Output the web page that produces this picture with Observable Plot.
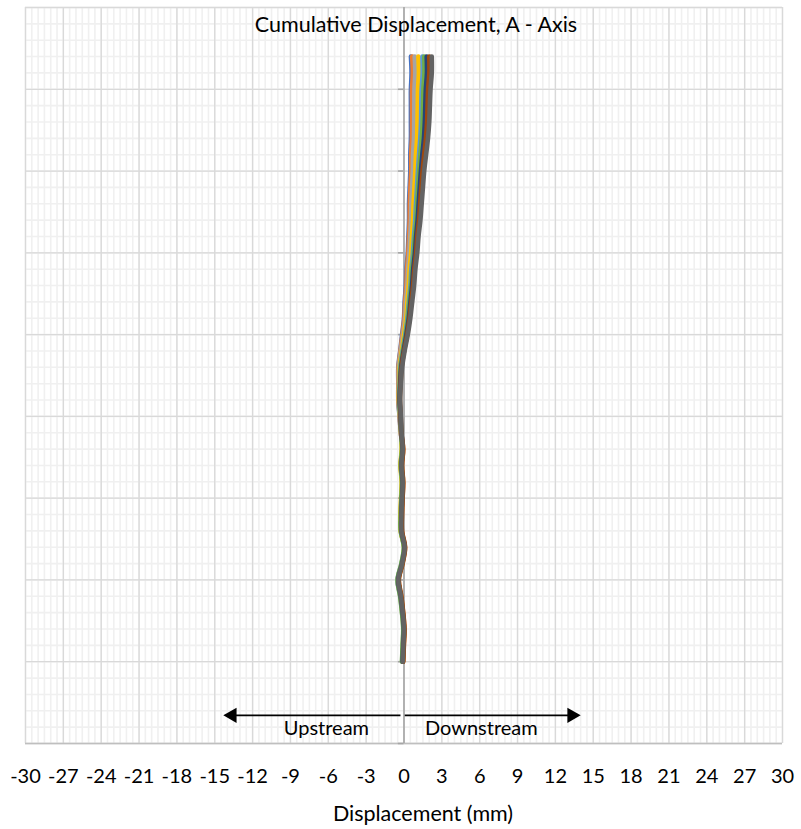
<!DOCTYPE html>
<html>
<head>
<meta charset="utf-8">
<script src="https://cdn.jsdelivr.net/npm/d3@7"></script>
<script src="https://cdn.jsdelivr.net/npm/@observablehq/plot@0.6"></script>
<style>
html, body { margin: 0; padding: 0; background: #fff; }
#chart svg { display: block; }
</style>
</head>
<body>
<div id="chart"></div>
<script>
// ---- Text ----
const title = "Cumulative Displacement, A - Axis";
const xLabel = "Displacement (mm)";
const xTicks = [-30, -27, -24, -21, -18, -15, -12, -9, -6, -3, 0, 3, 6, 9, 12, 15, 18, 21, 24, 27, 30];
const majorDepths = [0, 5, 10, 15, 20, 25, 30, 35, 40, 45];

// ---- Series (depth in m, cumulative displacement in mm) ----
const depth = [3, 4, 5, 6, 7, 8, 9, 10, 11, 12, 13, 14, 15, 16, 17, 18, 19, 20, 21, 22, 23, 24, 25, 26, 27, 28, 29, 30, 31, 32, 33, 34, 35, 36, 37, 38, 39, 40];

const series1 = [0.55, 0.6, 0.55, 0.55, 0.55, 0.55, 0.5, 0.5, 0.45, 0.4, 0.4, 0.35, 0.3, 0.2, 0.15, 0.05, 0, -0.15, -0.3, -0.45, -0.45, -0.45, -0.35, -0.25, -0.12, -0.22, -0.12, -0.17, -0.22, -0.22, 0.02, -0.17, -0.5, -0.27, -0.12, -0.02, -0.07, -0.1];
const series2 = [0.65, 0.7, 0.64, 0.64, 0.64, 0.63, 0.57, 0.57, 0.51, 0.46, 0.45, 0.4, 0.34, 0.24, 0.19, 0.09, 0.03, -0.12, -0.28, -0.43, -0.44, -0.44, -0.34, -0.25, -0.07, -0.17, -0.07, -0.12, -0.17, -0.17, 0.08, -0.12, -0.42, -0.22, -0.07, 0.03, -0.02, -0.07];
const series3 = [0.85, 0.89, 0.83, 0.82, 0.81, 0.79, 0.72, 0.7, 0.64, 0.58, 0.56, 0.49, 0.43, 0.33, 0.27, 0.16, 0.09, -0.07, -0.24, -0.4, -0.41, -0.42, -0.33, -0.24, -0.15, -0.25, -0.15, -0.2, -0.25, -0.25, 0.0, -0.2, -0.5, -0.3, -0.15, -0.05, -0.1, -0.15];
const series4 = [1.14, 1.18, 1.11, 1.09, 1.07, 1.04, 0.95, 0.9, 0.83, 0.76, 0.72, 0.64, 0.57, 0.45, 0.38, 0.27, 0.18, 0.01, -0.17, -0.34, -0.38, -0.4, -0.31, -0.23, -0.18, -0.28, -0.18, -0.23, -0.28, -0.26, 0.02, -0.15, -0.45, -0.25, -0.1, 0.0, -0.05, -0.1];
const series5 = [1.46, 1.48, 1.4, 1.37, 1.35, 1.29, 1.19, 1.1, 1.03, 0.95, 0.89, 0.79, 0.71, 0.58, 0.51, 0.38, 0.27, 0.1, -0.11, -0.29, -0.34, -0.37, -0.3, -0.22, -0.12, -0.22, -0.12, -0.17, -0.22, -0.22, 0.03, -0.17, -0.47, -0.27, -0.12, -0.02, -0.07, -0.12];
const series6 = [1.61, 1.62, 1.54, 1.51, 1.48, 1.41, 1.3, 1.2, 1.12, 1.04, 0.98, 0.86, 0.78, 0.65, 0.57, 0.43, 0.32, 0.14, -0.08, -0.26, -0.32, -0.35, -0.29, -0.22, -0.16, -0.26, -0.16, -0.21, -0.26, -0.26, -0.01, -0.21, -0.51, -0.31, -0.16, -0.06, -0.11, -0.16];
const series7 = [1.8, 1.82, 1.73, 1.69, 1.65, 1.58, 1.45, 1.34, 1.25, 1.16, 1.08, 0.96, 0.87, 0.73, 0.64, 0.51, 0.38, 0.19, -0.03, -0.22, -0.3, -0.34, -0.27, -0.21, -0.1, -0.2, -0.1, -0.15, -0.2, -0.2, 0.05, -0.15, -0.45, -0.25, -0.1, 0.0, -0.05, -0.1];
const series8 = [2.0, 2.01, 1.91, 1.87, 1.83, 1.74, 1.6, 1.47, 1.37, 1.28, 1.19, 1.05, 0.96, 0.82, 0.72, 0.58, 0.44, 0.25, 0.01, -0.19, -0.27, -0.32, -0.26, -0.21, -0.06, -0.16, -0.06, -0.11, -0.16, -0.16, 0.09, -0.11, -0.41, -0.21, -0.06, 0.04, -0.01, -0.06];
const series9 = [2.2, 2.2, 2.1, 2.05, 2.0, 1.9, 1.75, 1.6, 1.5, 1.4, 1.3, 1.15, 1.05, 0.9, 0.8, 0.65, 0.5, 0.3, 0.05, -0.15, -0.25, -0.3, -0.25, -0.2, -0.1, -0.2, -0.1, -0.15, -0.2, -0.2, 0.05, -0.15, -0.45, -0.25, -0.1, 0.0, -0.05, -0.1];

const seriesNames = ["Reading 1", "Reading 2", "Reading 3", "Reading 4", "Reading 5", "Reading 6", "Reading 7", "Reading 8", "Reading 9"];
const seriesValues = [series1, series2, series3, series4, series5, series6, series7, series8, series9];
const seriesColors = ["#4472C4", "#ED7D31", "#A5A5A5", "#FFC000", "#5B9BD5", "#70AD47", "#264478", "#9E480E", "#636363"];

// ---- Direction annotation ----
const directionLabels = ["Upstream", "Downstream"];
const directionLabelX = [-6.15, 6.13];
const directionLabelDepth = 44.1;
const arrowFrom = [-0.28, 0.0];
const arrowTo = [-13.9, 13.7];
const arrowHead = [-13.62, 13.3];
const arrowAngle = [-90, 90];
const arrowDepth = 43.28;

// ---- Build tables ----
const rows = [];
seriesNames.forEach((name, i) => {
  depth.forEach((d, j) => rows.push({series: name, depth: d, disp: seriesValues[i][j]}));
});
const arrows = arrowFrom.map((f, i) => ({from: f, to: arrowTo[i], head: arrowHead[i], angle: arrowAngle[i], depth: arrowDepth}));
const dirText = directionLabels.map((t, i) => ({label: t, x: directionLabelX[i], depth: directionLabelDepth}));

const minorX = d3.range(-30, 30.001, 0.5);
const minorY = d3.range(0, 45.001, 1);

const chart = Plot.plot({
  width: 801,
  height: 829,
  marginLeft: 25,
  marginRight: 19,
  marginTop: 7,
  marginBottom: 86,
  style: {fontFamily: "Lato, 'Open Sans', sans-serif", fontSize: "20px", color: "#000", background: "#fff"},
  x: {domain: [-30, 30], label: null},
  y: {domain: [0, 45], reverse: true, axis: null},
  color: {domain: seriesNames, range: seriesColors},
  marks: [
    Plot.ruleX(minorX, {stroke: "#F0F0F0", strokeWidth: 1.6}),
    Plot.ruleY(minorY, {stroke: "#F0F0F0", strokeWidth: 1.6}),
    Plot.ruleX(xTicks, {stroke: "#D9D9D9", strokeWidth: 1.3}),
    Plot.ruleY(majorDepths, {stroke: "#D9D9D9", strokeWidth: 1.3}),
    Plot.ruleY([45], {stroke: "#BFBFBF", strokeWidth: 1.6}),
    Plot.link(arrows, {x1: "from", x2: "to", y1: "depth", y2: "depth", stroke: "#000", strokeWidth: 1.6}),
    Plot.dot(arrows, {x: "head", y: "depth", symbol: "triangle", r: 5.7, fill: "#000", stroke: null, rotate: "angle"}),
    Plot.ruleX([0], {stroke: "#A6A6A6", strokeWidth: 1.6}),
    Plot.ruleY(majorDepths.slice(1), {x1: -0.45, x2: 0, stroke: "#A6A6A6", strokeWidth: 1.6}),
    Plot.text(dirText, {x: "x", y: "depth", text: "label", fontSize: 20, fill: "#000", lineAnchor: "middle"}),
    Plot.line(rows, {x: "disp", y: "depth", z: "series", stroke: "series", strokeWidth: 4.6, strokeLinejoin: "round", strokeLinecap: "round", curve: "catmull-rom"}),
    Plot.axisX({ticks: xTicks, tickSize: 0, tickPadding: 25, tickFormat: d => String(d), fontSize: 20, label: null, fill: "#000"}),
    Plot.text([title], {frameAnchor: "top", lineAnchor: "middle", dx: 12, dy: 18, fontSize: 21.5, fill: "#000"}),
    Plot.text([xLabel], {frameAnchor: "bottom", lineAnchor: "middle", dx: 19, dy: 70.5, fontSize: 21.5, fill: "#000"})
  ]
});
document.getElementById("chart").appendChild(chart);
</script>
</body>
</html>
